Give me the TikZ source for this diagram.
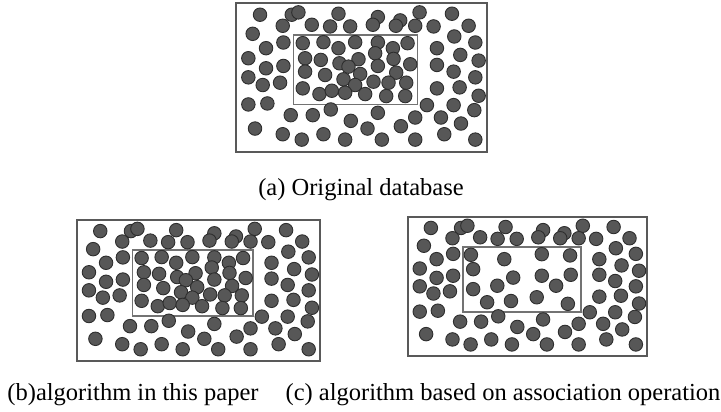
\documentclass[tikz,border=0pt]{standalone}
\usepackage{fontspec}
\setmainfont{Liberation Serif}
\usepackage{tikz}
\usetikzlibrary{positioning}

% dots outside the window, in the units of panel (a) (frame 752 x 445)
\def\outerdots{90/45, 185/45, 205/38, 325/42, 443/52, 510/62, 568/38, 665/42,
  158/78, 245/75, 300/80, 360/80, 428/75, 497/78, 555/78, 610/80, 715/78,
  68/102, 672/110, 108/145, 160/128, 620/145, 735/128,
  55/175, 690/165, 620/195, 745/182, 108/205, 160/198, 670/215,
  55/232, 98/255, 150/248, 735/232, 620/265, 688/262,
  55/313, 112/310, 590/315, 670/315, 745/287, 732/330,
  182/345, 248/345, 302/328, 443/338, 555/352, 632/352, 692/370,
  75/385, 362/362, 412/385, 512/378,
  158/402, 215/418, 280/402, 345/418, 455/418, 555/418, 642/402, 735/418}
% dots inside the window
\def\densedots{218/130, 280/127, 325/145, 375/127, 443/128, 488/145, 532/130,
  225/175, 272/180, 328/190, 385/178, 435/160, 490/177, 540/193,
  225/215, 285/225, 355/200, 390/222, 443/198, 498/218,
  218/265, 340/238, 375/255, 430/245, 475/248, 528/248,
  268/282, 305/272, 345/278, 405/282, 468/288, 525/288}
\def\sparsedots{216/131, 321/145, 439/129, 528/133,
  223/177, 349/204, 439/198, 530/195,
  223/241, 299/230, 484/230,
  267/283, 342/279, 423/267, 521/288}

% #1 name, #2 left, #3 top, #4 right, #5 bottom, #6 inner dots
\newcommand{\dbpanel}[6]{%
  \begin{scope}[shift={(#2,#3)}, xscale={(#4-#2)/752}, yscale={(#5-#3)/445}]
    \draw[frame] (0,0) rectangle (752,445);
    \draw[window] (172,95) rectangle (544,303);
    \foreach \x/\y [count=\i] in \outerdots
      \node[datapoint] (#1o\i) at (\x-18,\y-10) {};
    \foreach \x/\y [count=\i] in #6
      \node[datapoint] (#1i\i) at (\x-18,\y-10) {};
  \end{scope}}

\begin{document}
\begin{tikzpicture}
  [
    x=1pt, y=-1pt,
    datapoint/.style={circle, fill=black!66, draw=black!82, line width=0.9pt, inner sep=0pt, minimum size=13.5pt},
    frame/.style={draw=black!65, line width=1.4pt},
    window/.style={draw=black!55, line width=1.8pt},
    caption/.style={font=\fontsize{24.5}{28}\selectfont, inner sep=0pt}
  ]
  \useasboundingbox (0,0) rectangle (721,412);
  % Panels
  \dbpanel{a}{236}{3}{487}{152}{\densedots}
  \dbpanel{b}{77}{220}{320}{361}{\densedots}
  \dbpanel{c}{408}{217}{647}{356}{\sparsedots}
  % Captions
  \node[caption] (capa) at (361,190) {(a) Original database};
  \node[caption] (capb) at (133,395) {(b)algorithm in this paper};
  \node[caption] (capc) at (503,395) {(c) algorithm based on association operation};
\end{tikzpicture}
\end{document}
